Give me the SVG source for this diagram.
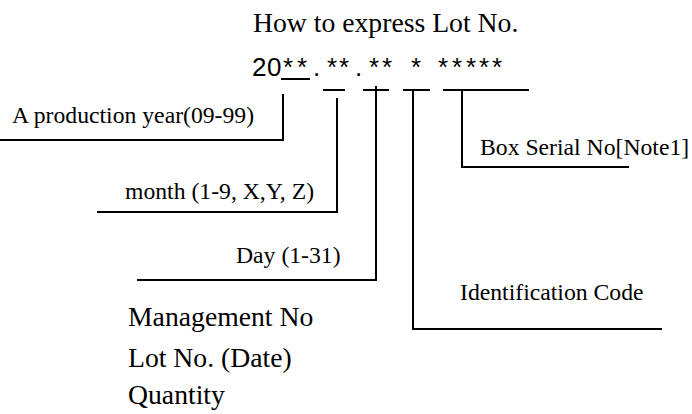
<svg xmlns="http://www.w3.org/2000/svg" width="692" height="414" viewBox="0 0 692 414">
<style>
.ser{font-family:"Liberation Serif","Times New Roman",serif;fill:#000}
.big{font-size:27.7px}
.lbl{font-size:23.7px}
.sans{font-family:"Liberation Sans",Arial,sans-serif;font-size:26px;fill:#000}
.ln{stroke:#000;stroke-width:2;fill:none}
</style>
<rect width="692" height="414" fill="#fff"/>
<g id="title">
<text class="ser big" x="253" y="32">How to express Lot No.</text>
<text class="sans" x="252 267 283 297 313 327 339 355 369 382 411 438 452 466 479 492" y="76">20**.**.********</text>
</g>
<g id="connectors">
<path class="ln" d="M281 79H310"/>
<path class="ln" d="M0 140H283V94"/>
<path class="ln" d="M323 90H345M97 212H337V98"/>
<path class="ln" d="M363 90H389M137 280H376V86"/>
<path class="ln" d="M403 90H430M413 90V329H662"/>
<path class="ln" d="M443 90H529M462 90V167H629"/>
</g>
<g id="year"><text class="ser lbl" x="12" y="123">A production year(09-99)</text></g>
<g id="month"><text class="ser lbl" x="125" y="199">month (1-9, X,Y, Z)</text></g>
<g id="day"><text class="ser lbl" x="236" y="263">Day (1-31)</text></g>
<g id="box"><text class="ser lbl" x="480" y="155">Box Serial No[Note1]</text></g>
<g id="ident"><text class="ser lbl" x="460" y="300">Identification Code</text></g>
<g id="items">
<text class="ser big" x="128" y="326">Management No</text>
<text class="ser big" x="128" y="367">Lot No. (Date)</text>
<text class="ser big" x="128" y="404">Quantity</text>
</g>
</svg>
